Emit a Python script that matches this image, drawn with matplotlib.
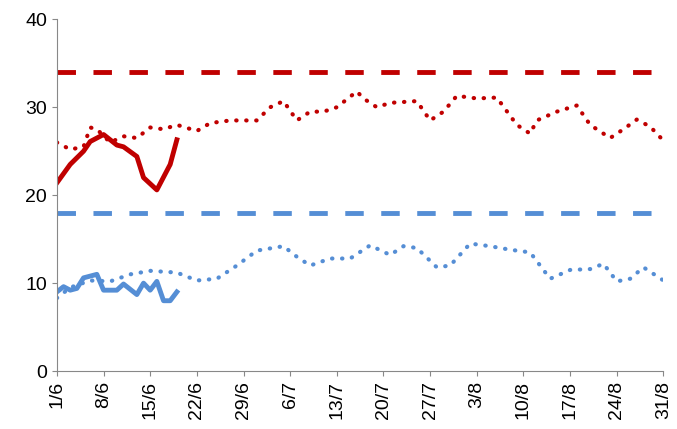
import numpy as np
import matplotlib.pyplot as plt

plt.rcParams['font.family'] = ['Liberation Sans', 'DejaVu Sans']

# day index from 1 June
red_dot_x = [0, 2, 4, 5, 6, 8, 10, 12, 14, 16, 18, 21, 23, 26, 30, 32, 34, 36, 38, 40, 42, 45, 46, 48, 50, 54, 56, 58, 60, 63, 66, 69, 71, 72, 75, 78, 80, 83, 85, 87, 89, 91]
red_dot_y = [26, 25.2, 25.5, 27.7, 27.5, 26, 26.7, 26.5, 27.7, 27.5, 28, 27.3, 28.2, 28.5, 28.5, 30, 30.7, 28.5, 29.5, 29.5, 30, 31.8, 31, 30, 30.5, 30.7, 28.5, 29.5, 31.3, 31, 31.1, 28, 27, 28.5, 29.5, 30.2, 28, 26.5, 27.5, 28.6, 27.8, 26.2]
blue_dot_x = [0, 2, 5, 8, 11, 14, 18, 21, 24, 27, 30, 34, 36, 38, 41, 44, 47, 50, 52, 54, 57, 59, 62, 65, 68, 71, 74, 77, 80, 82, 84, 86, 88, 91]
blue_dot_y = [8.3, 9.5, 10.3, 10.2, 11, 11.4, 11.2, 10.3, 10.5, 12, 13.7, 14.2, 13, 12, 12.8, 12.8, 14.3, 13.2, 14.2, 14, 11.8, 12, 14.5, 14.2, 13.8, 13.5, 10.5, 11.5, 11.6, 12.2, 10.2, 10.5, 11.8, 10.3]
red_x = [0, 2, 4, 5, 7, 9, 10, 12, 13, 15, 17, 18]
red_y = [21.4, 23.5, 25, 26.1, 26.9, 25.7, 25.5, 24.4, 22, 20.6, 23.5, 26.3]
blue_x = [0, 1, 2, 3, 4, 6, 7, 9, 10, 12, 13, 14, 15, 16, 17, 18]
blue_y = [9, 9.6, 9.2, 9.4, 10.6, 11, 9.2, 9.2, 9.9, 8.7, 10, 9.2, 10.2, 8, 8, 9]
red_limit = 34
blue_limit = 18
tick_days = list(range(0, 92, 7))
tick_labels = ['1/6', '8/6', '15/6', '22/6', '29/6', '6/7', '13/7', '20/7', '27/7', '3/8', '10/8', '17/8', '24/8', '31/8']

RED = '#C00000'
BLUE = '#558ED5'

fig, ax = plt.subplots(figsize=(6.77, 4.29), dpi=100)
ax.plot(red_dot_x, red_dot_y, color=RED, lw=3, ls=(0, (0.1, 2.3)), dash_capstyle='round')
ax.plot(blue_dot_x, blue_dot_y, color=BLUE, lw=3, ls=(0, (0.1, 2.3)), dash_capstyle='round')
ax.plot(red_x, red_y, color=RED, lw=3.5)
ax.plot(blue_x, blue_y, color=BLUE, lw=3.5)
ax.axhline(red_limit, color=RED, lw=3.5, ls=(0, (3.8, 3.6)))
ax.axhline(blue_limit, color=BLUE, lw=3.5, ls=(0, (3.8, 3.6)))

ax.set_xlim(0, 91)
ax.set_ylim(0, 40)
ax.set_yticks([0, 10, 20, 30, 40])
ax.set_xticks(tick_days)
ax.set_xticklabels(tick_labels, rotation=90)
ax.tick_params(labelsize=14, color='#888888')
for s in ['top', 'right']:
    ax.spines[s].set_visible(False)
for s in ['left', 'bottom']:
    ax.spines[s].set_color('#888888')
fig.subplots_adjust(left=0.084, right=0.98, top=0.955, bottom=0.135)
fig.savefig('out.png')
